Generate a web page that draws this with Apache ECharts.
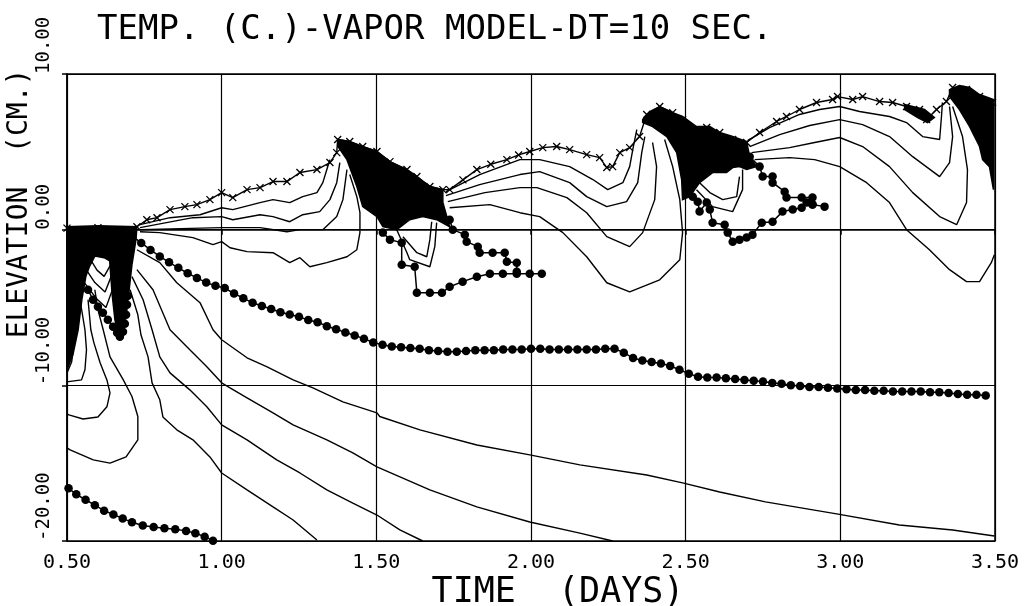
<!DOCTYPE html>
<html>
<head>
<meta charset="utf-8">
<script src="https://cdn.jsdelivr.net/npm/echarts@6/dist/echarts.min.js"></script>
<style>
html,body{margin:0;padding:0;background:#fff;}
#chart{width:1036px;height:606px;}
</style>
</head>
<body>
<div id="chart"></div>
<script>
// ---------- text ----------
const titleText = 'TEMP. (C.)-VAPOR MODEL-DT=10 SEC.';
const xName = 'TIME  (DAYS)';
const yName = 'ELEVATION  (CM.)';
const xTickLabels = ['0.50','1.00','1.50','2.00','2.50','3.00','3.50'];
const yTickLabels = ['-20.00','-10.00','0.00','10.00'];

// ---------- data: [time (days), elevation (cm)] ----------
// surface (x markers)
const surface = [[0.5,0.1],[0.6,0.13],[0.726,0.19],[0.758,0.64],[0.791,0.77],[0.833,1.29],[0.881,1.48],[0.92,1.61],[0.962,1.93],[1.0,2.38],[1.036,2.06],[1.082,2.57],[1.124,2.7],[1.166,3.09],[1.211,3.09],[1.253,3.67],[1.308,3.86],[1.35,4.31],[1.372,4.95],[1.375,5.79],
[1.414,5.66],[1.456,5.34],[1.502,5.02],[1.544,4.37],[1.599,3.86],[1.631,3.41],[1.673,2.77],[1.715,2.57],
[1.737,2.57],[1.78,3.2],[1.825,3.86],[1.87,4.2],[1.922,4.5],[1.96,4.8],[1.996,5.02],[2.038,5.27],[2.083,5.34],[2.125,5.14],[2.18,4.82],[2.222,4.63],[2.245,3.99],[2.264,4.05],[2.287,4.95],[2.319,5.27],[2.351,5.98],[2.374,7.4],[2.416,7.91],[2.458,7.52],[2.49,7.07],[2.523,6.3],[2.568,6.56],[2.61,6.24],[2.652,5.79],[2.697,5.6],[2.739,6.24],[2.794,6.95],[2.826,7.27],[2.868,7.72],[2.923,8.17],[2.975,8.36],[2.991,8.55],[3.04,8.36],[3.072,8.55],[3.127,8.23],[3.169,8.17],[3.214,7.91],[3.256,7.72],[3.279,7.07],[3.311,7.72],[3.343,8.23],[3.363,9.13],[3.408,9.0],[3.45,8.55],[3.492,8.17]];

// heavy dotted isotherms
const dotMain = [[0.71,-0.4],[0.74,-0.85],[0.77,-1.3],[0.80,-1.72],[0.83,-2.1],[0.86,-2.45],[0.89,-2.8],[0.92,-3.1],[0.95,-3.4],[0.98,-3.6],[1.01,-3.75],[1.04,-4.1],[1.07,-4.4],[1.10,-4.7],[1.13,-4.9],[1.16,-5.1],[1.19,-5.3],[1.22,-5.45],[1.25,-5.6],[1.28,-5.8],[1.31,-5.95],[1.34,-6.2],[1.37,-6.4],[1.40,-6.6],[1.43,-6.8],[1.46,-7.0],[1.49,-7.25],[1.52,-7.4],[1.55,-7.5],[1.58,-7.55],[1.61,-7.6],[1.64,-7.65],[1.67,-7.75],[1.70,-7.8],[1.73,-7.85],[1.76,-7.85],[1.79,-7.8],[1.82,-7.75],[1.85,-7.75],[1.88,-7.75],[1.91,-7.7],[1.94,-7.7],[1.97,-7.7],[2.00,-7.65],[2.03,-7.65],[2.06,-7.7],[2.09,-7.7],[2.12,-7.7],[2.15,-7.7],[2.18,-7.7],[2.21,-7.7],[2.24,-7.65],[2.27,-7.65],[2.30,-7.9],[2.33,-8.25],[2.36,-8.4],[2.39,-8.5],[2.42,-8.6],[2.45,-8.75],[2.48,-9.0],[2.51,-9.25],[2.54,-9.45],[2.57,-9.5],[2.60,-9.5],[2.63,-9.55],[2.66,-9.6],[2.69,-9.65],[2.72,-9.7],[2.75,-9.75],[2.78,-9.85],[2.81,-9.9],[2.84,-10.0],[2.87,-10.05],[2.90,-10.1],[2.93,-10.1],[2.96,-10.15],[2.99,-10.2],[3.02,-10.25],[3.05,-10.3],[3.08,-10.3],[3.11,-10.35],[3.14,-10.35],[3.17,-10.4],[3.20,-10.4],[3.23,-10.4],[3.26,-10.4],[3.29,-10.45],[3.32,-10.45],[3.35,-10.5],[3.38,-10.55],[3.41,-10.6],[3.44,-10.6],[3.47,-10.65]];
const dotLow = [[0.505,-16.61],[0.53,-17.0],[0.56,-17.35],[0.59,-17.7],[0.62,-18.05],[0.65,-18.3],[0.68,-18.55],[0.71,-18.8],[0.745,-19.0],[0.78,-19.1],[0.815,-19.18],[0.85,-19.25],[0.885,-19.35],[0.915,-19.5],[0.945,-19.72],[0.972,-19.98]];
const dotLeft = [[0.568,-3.86],[0.584,-4.5],[0.6,-4.95],[0.616,-5.34],[0.632,-5.79],[0.649,-6.24],[0.662,-6.62],[0.671,-6.88],[0.681,-6.56],[0.687,-6.05],[0.691,-5.47],[0.694,-4.82],[0.697,-4.24]];
const dotMidLow = [[1.521,-0.19],[1.544,-0.64],[1.582,-0.84],[1.582,-2.25],[1.624,-2.38],[1.631,-4.05],[1.673,-4.05],[1.712,-4.05],[1.737,-3.67],[1.779,-3.34],[1.825,-3.02],[1.867,-2.83],[1.909,-2.83],[1.954,-2.83],[1.996,-2.83],[2.035,-2.83]];
const dotMidUp = [[1.737,0.64],[1.747,0],[1.786,-0.32],[1.792,-0.77],[1.828,-1.09],[1.834,-1.48],[1.876,-1.48],[1.915,-1.48],[1.922,-2.06],[1.954,-2.12],[1.954,-2.7]];
const dotRightA = [[2.707,4.69],[2.739,4.05],[2.749,3.41],[2.781,3.41],[2.781,3.02],[2.82,2.44],[2.826,2.06],[2.875,2.06],[2.91,2.06],[2.91,1.61],[2.949,1.48]];
const dotRightB = [[2.523,2.12],[2.539,1.8],[2.545,1.16],[2.568,1.74],[2.578,1.29],[2.587,0.45],[2.626,0.32],[2.636,-0.19],[2.652,-0.77],[2.674,-0.64],[2.697,-0.51],[2.716,-0.32],[2.746,0.45],[2.781,0.51],[2.813,1.16],[2.846,1.29],[2.875,1.41],[2.891,1.74],[2.91,1.61]];

// thin isotherms
const low1 = [[0.726,-1.29],[0.80,-2.12],[0.855,-3.41],[0.93,-4.69],[0.972,-6.43],[1.0,-7.07],[1.082,-8.23],[1.147,-8.81],[1.231,-9.65],[1.295,-10.16],[1.392,-11.06],[1.502,-11.77],[1.511,-12.0],[1.641,-12.86],[1.825,-13.83],[1.996,-14.47],[2.158,-15.11],[2.374,-15.76],[2.49,-16.27],[2.61,-16.85],[2.758,-17.49],[2.988,-18.26],[3.191,-18.97],[3.363,-19.29],[3.498,-19.68]];
const low2 = [[0.726,-2.57],[0.778,-3.86],[0.833,-6.43],[0.897,-7.72],[0.952,-8.81],[1.0,-9.84],[1.027,-10.16],[1.082,-10.8],[1.166,-11.77],[1.231,-12.54],[1.34,-13.5],[1.424,-14.34],[1.502,-15.24],[1.673,-16.72],[1.825,-17.81],[1.996,-18.78],[2.158,-19.49],[2.264,-20.0]];
const low3 = [[0.71,-3.02],[0.746,-4.5],[0.775,-6.43],[0.8,-8.17],[0.833,-9.2],[0.897,-10.29],[0.952,-11.38],[1.0,-12.54],[1.082,-13.5],[1.178,-14.79],[1.253,-15.63],[1.34,-16.72],[1.424,-17.56],[1.502,-18.33],[1.576,-19.29],[1.65,-20.0]];
const low4 = [[0.704,-3.86],[0.729,-5.47],[0.739,-6.75],[0.762,-8.17],[0.775,-9.84],[0.8,-10.93],[0.81,-12.03],[0.855,-12.86],[0.907,-13.5],[0.962,-14.6],[1.0,-15.63],[1.082,-16.72],[1.166,-17.81],[1.231,-18.65],[1.308,-19.94]];
const low5 = [[0.59,-3.86],[0.6,-5.14],[0.617,-6.43],[0.639,-8.17],[0.682,-9.65],[0.71,-10.72],[0.729,-12.0],[0.729,-13.5],[0.691,-14.6],[0.639,-15.0],[0.585,-14.79],[0.51,-14.15],[0.5,-14.02]];
const low6 = [[0.568,-4.5],[0.577,-6.43],[0.587,-7.27],[0.607,-8.55],[0.629,-9.65],[0.639,-10.48],[0.629,-11.38],[0.6,-12.03],[0.552,-12.16],[0.506,-11.9],[0.5,-11.83]];
const low7 = [[0.542,-4.5],[0.558,-6.43],[0.563,-7.72],[0.558,-9.0],[0.547,-9.65],[0.505,-9.76],[0.5,-9.76]];
const low8 = [[0.53,-4.0],[0.525,-7.0],[0.515,-8.5],[0.5,-9.2]];
const vL1 = [[0.575,-1.9],[0.597,-2.6],[0.62,-3.0],[0.64,-2.3]];
const vL2 = [[0.563,-2.6],[0.59,-3.4],[0.623,-4.0],[0.643,-3.0]];
const vL3 = [[0.556,-3.4],[0.594,-4.4],[0.626,-5.0],[0.646,-3.9]];
const c1 = [[0.736,0.32],[0.833,0.77],[0.93,0.96],[1.0,1.41],[1.036,1.29],[1.124,1.74],[1.166,1.93],[1.22,1.74],[1.262,2.12],[1.308,2.38],[1.327,3.02],[1.34,3.86],[1.35,4.5]];
const c2 = [[0.736,0.13],[0.907,0.77],[1.0,0.84],[1.036,0.64],[1.124,0.96],[1.166,0.84],[1.22,0.51],[1.262,0.96],[1.317,1.16],[1.35,1.93],[1.372,3.02],[1.382,4.31]];
const c3 = [[0.736,0],[1.0,0.13],[1.124,0.13],[1.211,-0.13],[1.253,0],[1.327,0],[1.372,0.84],[1.392,1.93],[1.405,3.86]];
const c4 = [[0.736,-0.13],[0.8,-0.19],[0.907,-0.51],[0.972,-0.96],[1.0,-0.77],[1.027,-1.16],[1.082,-1.41],[1.166,-1.48],[1.22,-2.12],[1.253,-1.8],[1.285,-2.38],[1.34,-2.12],[1.405,-1.74],[1.437,-1.29],[1.447,-0.19],[1.447,1.09],[1.437,2.12],[1.414,3.54]];
const va = [[1.566,0],[1.599,-1.48],[1.608,-1.93],[1.673,-2.38],[1.689,-1.09],[1.695,0.45]];
const vb = [[1.586,-0.45],[1.631,-1.48],[1.663,-1.74],[1.673,-0.64],[1.679,0.51]];
const m1 = [[1.725,2.44],[1.834,3.54],[1.964,4.5],[2.028,4.5],[2.125,4.05],[2.2,3.22],[2.248,2.57],[2.297,3.02],[2.319,4.05],[2.329,5.14],[2.342,6.43]];
const m2 = [[1.725,2.19],[1.834,2.89],[1.964,3.54],[2.028,3.73],[2.125,3.02],[2.18,2.12],[2.245,1.48],[2.309,1.8],[2.345,3.02],[2.358,4.95],[2.368,5.98]];
const m3 = [[1.731,1.8],[1.851,2.38],[1.964,2.7],[2.019,2.7],[2.116,2.06],[2.18,1.09],[2.245,-0.45],[2.319,-1.09],[2.361,-0.19],[2.4,1.93],[2.406,4.05],[2.393,5.6]];
const m4 = [[1.737,1.41],[1.867,1.61],[1.964,1.09],[2.028,0.84],[2.103,-0.19],[2.18,-1.74],[2.245,-3.41],[2.319,-3.99],[2.416,-3.22],[2.481,-1.93],[2.49,-0.19],[2.481,1.93],[2.458,4.05],[2.432,5.79]];
const vr1 = [[2.545,3.02],[2.578,2.38],[2.62,1.93],[2.665,2.12],[2.674,3.41]];
const vr2 = [[2.535,2.57],[2.587,1.48],[2.652,1.16],[2.684,2.57],[2.684,3.86]];
const r1 = [[2.7,5.72],[2.771,6.56],[2.868,7.4],[2.933,7.72],[2.998,7.91],[3.062,7.59],[3.159,7.27],[3.214,6.88],[3.266,5.98],[3.321,5.79],[3.327,7.27],[3.33,8.17]];
const r2 = [[2.707,5.34],[2.804,6.11],[2.901,6.69],[2.998,7.07],[3.072,6.75],[3.159,5.98],[3.234,4.69],[3.321,3.41],[3.353,4.31],[3.363,5.98],[3.353,7.91]];
const r3 = [[2.713,4.95],[2.836,5.27],[2.917,5.6],[2.998,5.92],[3.072,5.34],[3.159,4.05],[3.234,2.38],[3.321,0.84],[3.376,0.32],[3.408,1.74],[3.411,3.86],[3.395,5.98],[3.363,7.91]];
const r4 = [[2.723,4.5],[2.836,4.63],[2.917,4.5],[2.998,4.05],[3.085,3.02],[3.159,1.74],[3.214,0],[3.288,-1.29],[3.353,-2.57],[3.408,-3.34],[3.45,-3.34],[3.488,-2.12],[3.498,-1.61]];

// dense (blackened) bands of closely packed isotherms
const massLeft = [[0.5,0.19],[0.6,0.25],[0.726,0.19],[0.723,-0.64],[0.71,-2.25],[0.701,-3.86],[0.691,-5.47],[0.678,-6.75],[0.668,-6.95],[0.655,-5.79],[0.646,-4.18],[0.638,-2.0],[0.62,-1.8],[0.59,-1.7],[0.572,-2.4],[0.561,-3.0],[0.548,-4.5],[0.536,-6.43],[0.519,-8.04],[0.5,-9.0]];
const mass1 = [[1.376,5.79],[1.414,5.66],[1.456,5.34],[1.502,5.02],[1.544,4.37],[1.599,3.86],[1.631,3.41],[1.673,2.77],[1.715,2.57],[1.715,1.74],[1.728,0.84],[1.737,0.19],[1.695,0.64],[1.65,0.84],[1.608,0.64],[1.566,0],[1.521,0.19],[1.502,0.84],[1.456,1.48],[1.437,2.77],[1.405,4.5],[1.376,5.34]];
const mass2 = [[2.361,7.07],[2.384,7.59],[2.416,7.91],[2.458,7.52],[2.49,7.27],[2.535,6.62],[2.578,6.62],[2.61,6.24],[2.652,5.98],[2.697,5.66],[2.707,4.69],[2.729,4.05],[2.697,3.86],[2.674,4.05],[2.652,3.99],[2.632,3.67],[2.587,3.67],[2.545,3.02],[2.513,2.12],[2.49,1.93],[2.487,3.22],[2.471,4.95],[2.439,5.98],[2.393,6.62],[2.361,6.88]];
const mass3 = [[3.353,8.99],[3.385,9.26],[3.418,9.13],[3.45,8.68],[3.495,8.36],[3.495,2.57],[3.482,4.05],[3.46,4.5],[3.45,5.34],[3.418,6.62],[3.385,7.72],[3.353,8.55]];
const blob3 = [[3.208,8.04],[3.272,7.72],[3.304,7.2],[3.282,6.88],[3.25,7.2],[3.208,7.72]];

// contour labels
const labels10 = [[0.655,0.55],[1.54,5.2],[1.648,4.05],[2.537,7.45],[2.645,6.5]];

// ---------- chart ----------
const FONT = 'DejaVu Sans Mono';
const chart = echarts.init(document.getElementById('chart'), null, {renderer:'canvas'});

function thin(d){ return {type:'line', data:d, showSymbol:false, symbol:'none', silent:true, lineStyle:{color:'#000', width:1.4}, z:3}; }
function dotted(d){ return {type:'line', data:d, symbol:'circle', symbolSize:8.5, silent:true, itemStyle:{color:'#000'}, lineStyle:{color:'#000', width:1.5}, z:4}; }
function poly(pts){
  return {type:'custom', coordinateSystem:'cartesian2d', data:pts, silent:true, z:5,
    encode:{x:0, y:1},
    renderItem:function(params, api){
      if (params.dataIndex !== 0) return null;
      return {type:'polygon', shape:{points:pts.map(function(p){return api.coord(p);})},
              style:{fill:'#000', stroke:'#000', lineWidth:1.5}};
    }};
}

const series = [];
[low1,low2,low3,low4,low5,low6,low7,low8,vL1,vL2,vL3,c1,c2,c3,c4,va,vb,m1,m2,m3,m4,vr1,vr2,r1,r2,r3,r4].forEach(function(d){ series.push(thin(d)); });
[dotMain,dotLow,dotLeft,dotMidLow,dotMidUp,dotRightA,dotRightB].forEach(function(d){ series.push(dotted(d)); });
series.push({type:'line', data:surface, symbol:'path://M0,0L10,10M10,0L0,10', symbolSize:7, showAllSymbol:true, silent:true,
  itemStyle:{color:'none', borderColor:'#000', borderWidth:1.3}, lineStyle:{color:'#000', width:1.4}, z:4});
[massLeft,mass1,mass2,mass3,blob3].forEach(function(d){ series.push(poly(d)); });
series.push({type:'scatter', data:labels10, symbol:'none', silent:true, z:6,
  label:{show:true, position:'inside', formatter:'10', color:'#000', fontFamily:FONT, fontSize:17}});

chart.setOption({
  animation:false,
  backgroundColor:'#fff',
  title:{text:titleText, left:92, top:8, textStyle:{fontFamily:FONT, fontSize:34, fontWeight:'normal', color:'#000'}},
  grid:{left:67, right:41, top:74, bottom:65, containLabel:false, outerBoundsMode:'none',
        show:true, borderColor:'#000', borderWidth:1.5, backgroundColor:'transparent'},
  xAxis:{type:'value', min:0.5, max:3.5, interval:0.5,
    name:xName, nameLocation:'middle', nameGap:34, nameMoveOverlap:false,
    nameTextStyle:{fontFamily:FONT, fontSize:35, color:'#000', padding:[0,0,0,54]},
    axisLine:{show:true, lineStyle:{color:'#000', width:1.5}},
    axisTick:{show:true, length:5, lineStyle:{color:'#000', width:1.5}},
    axisLabel:{fontFamily:FONT, fontSize:20, color:'#000', margin:12,
      formatter:function(v){ return xTickLabels[Math.round((v-0.5)/0.5)]; }},
    splitLine:{show:true, lineStyle:{color:'#000', width:1.2}}},
  yAxis:{type:'value', min:-20, max:10, interval:10,
    name:yName, nameLocation:'middle', nameRotate:90, nameGap:33, nameMoveOverlap:false,
    nameTextStyle:{fontFamily:FONT, fontSize:28, color:'#000', padding:[0,0,0,208]},
    axisLine:{show:true, lineStyle:{color:'#000', width:1.5}},
    axisTick:{show:true, length:5, lineStyle:{color:'#000', width:1.5}},
    axisLabel:{fontFamily:FONT, fontSize:19, color:'#000', margin:13, rotate:90, align:'left', verticalAlign:'bottom',
      formatter:function(v){ return yTickLabels[Math.round((v+20)/10)]; }},
    splitLine:{show:true, lineStyle:{color:'#000', width:1.2}}},
  series:series
});
</script>
</body>
</html>
